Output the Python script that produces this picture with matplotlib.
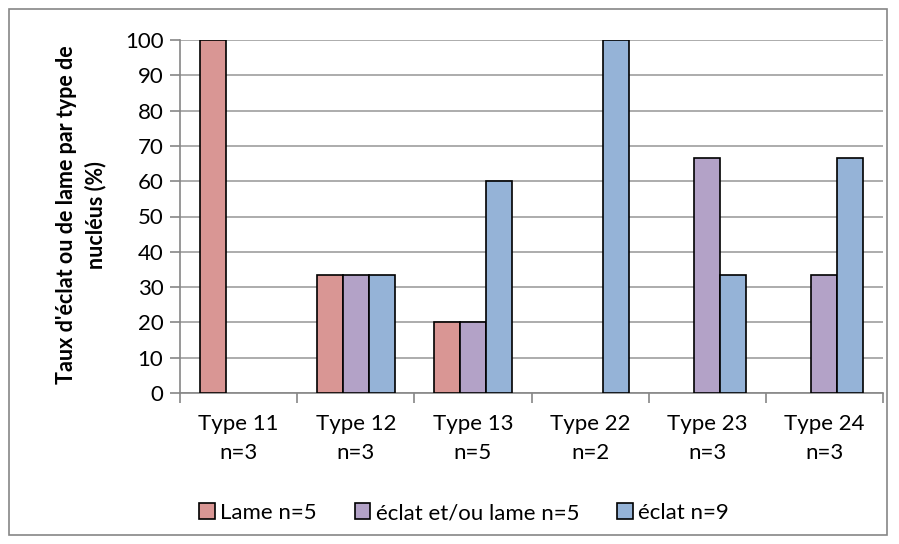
import numpy as np
import matplotlib
matplotlib.use("Agg")
import matplotlib.pyplot as plt
from matplotlib.patches import Rectangle

categories = ["Type 11\nn=3", "Type 12\nn=3", "Type 13\nn=5", "Type 22\nn=2", "Type 23\nn=3", "Type 24\nn=3"]
lame = [100, 33.33, 20, 0, 0, 0]
eclat_ou_lame = [0, 33.33, 20, 0, 66.67, 33.33]
eclat = [0, 33.33, 60, 100, 33.33, 66.67]
series_names = ["Lame n=5", "éclat et/ou lame n=5", "éclat n=9"]
colors = ["#D99694", "#B3A2C7", "#95B3D7"]

plt.rcParams["font.family"] = ["Lato", "DejaVu Sans"]
FS = 16

fig = plt.figure(figsize=(8.99, 5.44), dpi=100)
ax = fig.add_axes([180 / 899, 1 - 393 / 544, (883 - 180) / 899, (393 - 40) / 544])

# outer chart border
fig.patches.append(Rectangle((9 / 899, 1 - 535 / 544), (887 - 9) / 899, (535 - 9) / 544,
                             transform=fig.transFigure, fill=False, edgecolor="#868686", linewidth=1.2))

x = np.arange(len(categories))
w = 1 / 4.5
handles = []
for i, (vals, name, c) in enumerate(zip([lame, eclat_ou_lame, eclat], series_names, colors)):
    v = np.array(vals, dtype=float)
    h = ax.bar(x + (i - 1) * w, np.where(v > 0, v, np.nan), width=w, color=c,
               edgecolor="black", linewidth=1.2, zorder=3, label=name)
    handles.append(h)

ax.set_xlim(-0.5, len(categories) - 0.5)
ax.set_ylim(0, 100)
ax.set_yticks(np.arange(0, 101, 10))
ax.set_xticks(x)
ax.set_xticklabels(categories, fontsize=FS, linespacing=1.55)
ax.set_xticks(np.arange(-0.5, len(categories), 1), minor=True)
ax.tick_params(axis="x", which="major", length=0, pad=15)
ax.tick_params(axis="x", which="minor", length=7, color="#868686", width=1.2)
ax.tick_params(axis="y", length=7, color="#868686", width=1.2, labelsize=FS, pad=5)
ax.grid(axis="y", color="#A6A6A6", linewidth=1.3, zorder=0)
for s in ["top", "right"]:
    ax.spines[s].set_visible(False)
for s in ["left", "bottom"]:
    ax.spines[s].set_color("#868686")
    ax.spines[s].set_linewidth(1.2)

fig.text(81 / 899, 1 - 215 / 544, "Taux d'éclat ou de lame par type de\nnucléus (%)",
         rotation=90, ha="center", va="center", fontsize=15.5, fontweight="bold", linespacing=1.4)

fig.legend(handles=handles, loc="center", bbox_to_anchor=(464 / 899, 1 - 513 / 544), ncol=3,
           frameon=False, fontsize=FS, handlelength=0.7, handleheight=0.7, handletextpad=0.25,
           columnspacing=1.7)

fig.savefig("out.png", dpi=100)
